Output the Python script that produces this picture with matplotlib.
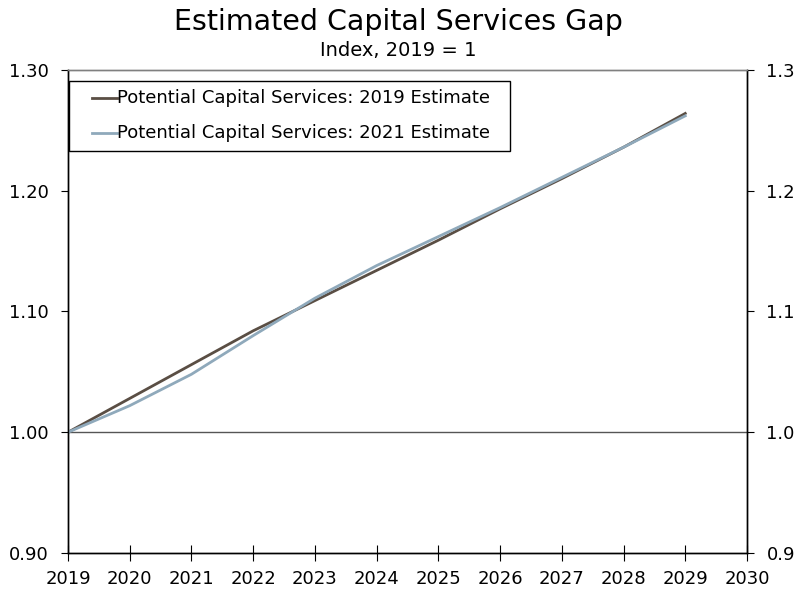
import matplotlib
matplotlib.use("Agg")
import matplotlib.pyplot as plt
import matplotlib.patches as mpatches
import numpy as np

years = [2019, 2020, 2021, 2022, 2023, 2024, 2025, 2026, 2027, 2028, 2029]
est_2019 = [1.000, 1.028, 1.056, 1.084, 1.109, 1.134, 1.159, 1.185, 1.210, 1.236, 1.264]
est_2021 = [1.000, 1.022, 1.048, 1.080, 1.111, 1.138, 1.162, 1.186, 1.211, 1.236, 1.262]

left_ticks = [0.90, 1.00, 1.10, 1.20, 1.30]
names = ['Potential Capital Services: 2019 Estimate', 'Potential Capital Services: 2021 Estimate']
colors = ['#5a4e44', '#8fa9bb']

plt.rcParams['font.family'] = ['DejaVu Sans']

fig = plt.figure(figsize=(7.96, 5.90), dpi=100)
ax = fig.add_axes([0.0854, 0.0627, 0.853, 0.8187])

ax.axhline(1.0, color='#555555', lw=1.0, zorder=1)
ax.plot(years, est_2019, color=colors[0], lw=2.0, zorder=3)
ax.plot(years, est_2021, color=colors[1], lw=2.0, zorder=4)

ax.set_xlim(2019, 2030)
ax.set_ylim(0.90, 1.30)
ax.set_xticks(np.arange(2019, 2031))
ax.set_yticks(left_ticks)
ax.set_yticklabels(['%.2f' % v for v in left_ticks])
ax.tick_params(axis='x', direction='inout', length=11, labelsize=13, pad=7, color='black')
ax.tick_params(axis='y', direction='out', length=5, labelsize=13, pad=9)

ax2 = ax.twinx()
ax2.set_ylim(0.90, 1.30)
ax2.set_yticks(left_ticks)
ax2.set_yticklabels(['%.1f' % v for v in left_ticks])
ax2.tick_params(axis='y', direction='out', length=5, labelsize=13, pad=9)

for a in (ax, ax2):
    for s in ('left', 'right', 'bottom'):
        a.spines[s].set_color('black')
        a.spines[s].set_linewidth(1.0)
    a.spines['top'].set_color('#808080')
    a.spines['top'].set_linewidth(1.0)

# legend box drawn by hand so the padding matches
ax.add_patch(mpatches.Rectangle((0.0015, 0.832), 0.6495, 0.145, transform=ax.transAxes,
                                facecolor='white', edgecolor='black', lw=1.0, zorder=9))
for i, (nm, c) in enumerate(zip(names, colors)):
    yy = 0.942 - i * 0.0725
    ax.plot([0.0353, 0.0722], [yy, yy], color=c, lw=2.0, transform=ax.transAxes, zorder=10)
    ax.text(0.0722, yy, nm, transform=ax.transAxes, fontsize=13, va='center', ha='left', zorder=10)

fig.text(0.5, 0.963, 'Estimated Capital Services Gap', ha='center', va='center', fontsize=20.5)
fig.text(0.5, 0.914, 'Index, 2019 = 1', ha='center', va='center', fontsize=14)

fig.savefig('out.png', dpi=100)
